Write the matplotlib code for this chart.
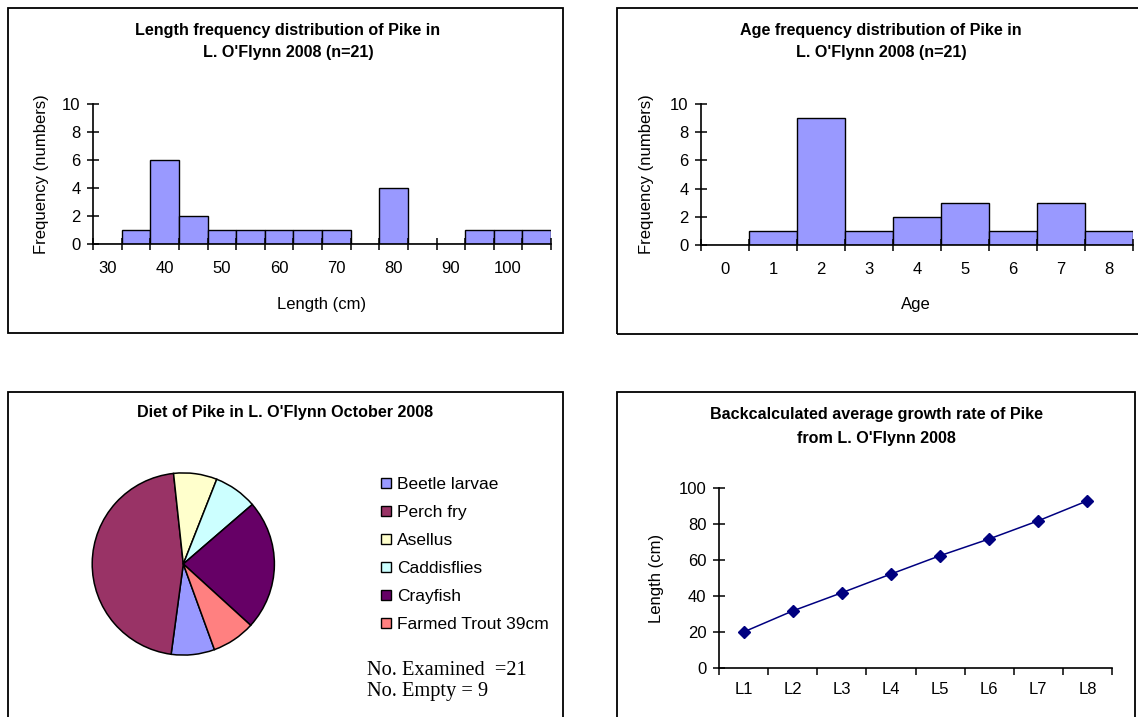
import numpy as np
import matplotlib
matplotlib.use("Agg")
import matplotlib.pyplot as plt
from matplotlib.patches import Rectangle, Patch

plt.rcParams['font.family'] = ['Liberation Sans', 'DejaVu Sans']

# Length frequency (5 cm classes)
length_classes = [30, 35, 40, 45, 50, 55, 60, 65, 70, 75, 80, 85, 90, 95, 100, 105]
length_freq = [0, 1, 6, 2, 1, 1, 1, 1, 1, 0, 4, 0, 0, 1, 1, 1]

# Age frequency
ages = [0, 1, 2, 3, 4, 5, 6, 7, 8]
age_freq = [0, 1, 9, 1, 2, 3, 1, 3, 1]

# Diet (stomach contents)
prey = ["Beetle larvae", "Perch fry", "Asellus", "Caddisflies", "Crayfish", "Farmed Trout 39cm"]
prey_count = [1, 6, 1, 1, 3, 1]
prey_colors = ["#9999FF", "#993366", "#FFFFCC", "#CCFFFF", "#660066", "#FF8080"]

# Back-calculated mean length at age
growth_labels = ["L1", "L2", "L3", "L4", "L5", "L6", "L7", "L8"]
growth_len = [20.0, 31.7, 41.8, 52.2, 62.4, 71.7, 81.8, 92.9]

W, H = 1138, 717
fig = plt.figure(figsize=(W / 100, H / 100), dpi=100)

TSIZE = 11.6   # chart titles
LSIZE = 12     # tick and axis labels


def axes_px(x0, y0, x1, y1):
    return fig.add_axes([x0 / W, 1 - y1 / H, (x1 - x0) / W, (y1 - y0) / H])


def box_px(x0, y0, x1, y1):
    fig.add_artist(Rectangle((x0 / W, 1 - y1 / H), (x1 - x0) / W, (y1 - y0) / H,
                             transform=fig.transFigure, fill=False,
                             edgecolor="black", lw=1.3))


def ftext(x, y, s, **kw):
    fig.text(x / W, 1 - y / H, s, ha="center", va="center", **kw)


def excel_axes(ax):
    for side in ("top", "right"):
        ax.spines[side].set_visible(False)
    for side in ("left", "bottom"):
        ax.spines[side].set_linewidth(1.2)
    ax.tick_params(axis="y", direction="inout", length=8, width=1.1,
                   labelsize=LSIZE, pad=5)
    ax.tick_params(axis="x", which="major", direction="inout", length=8,
                   width=1.1, labelbottom=False)
    ax.tick_params(axis="x", which="minor", length=0, labelsize=LSIZE, pad=12)


# panel frames
box_px(8, 8, 563, 333)
box_px(617, 8, 1150, 334)
box_px(8, 392, 563, 730)
box_px(617, 392, 1135, 730)

# --- Length frequency histogram ---
ax1 = axes_px(93, 104, 551, 244)
x1 = np.arange(len(length_classes))
ax1.bar(x1, length_freq, width=1, color="#9999FF", edgecolor="black", lw=1)
ax1.set_xlim(-0.5, len(length_classes) - 0.5)
ax1.set_ylim(0, 10)
ax1.set_yticks(range(0, 11, 2))
ax1.set_xticks(np.arange(len(length_classes) + 1) - 0.5)
ax1.set_xticks(x1[::2], [str(v) for v in length_classes[::2]], minor=True)
excel_axes(ax1)
ftext(288, 30, "Length frequency distribution of Pike in", fontsize=TSIZE, fontweight="bold")
ftext(288, 52, "L. O'Flynn 2008 (n=21)", fontsize=TSIZE, fontweight="bold")
ftext(322, 304, "Length (cm)", fontsize=LSIZE)
fig.text(42 / W, 1 - 174 / H, "Frequency (numbers)", rotation=90,
         ha="center", va="center", fontsize=LSIZE)

# --- Age frequency histogram ---
ax2 = axes_px(701, 104, 1133, 245)
x2 = np.arange(len(ages))
ax2.bar(x2, age_freq, width=1, color="#9999FF", edgecolor="black", lw=1)
ax2.set_xlim(-0.5, len(ages) - 0.5)
ax2.set_ylim(0, 10)
ax2.set_yticks(range(0, 11, 2))
ax2.set_xticks(np.arange(len(ages) + 1) - 0.5)
ax2.set_xticks(x2, [str(a) for a in ages], minor=True)
excel_axes(ax2)
ftext(881, 30, "Age frequency distribution of Pike in", fontsize=TSIZE, fontweight="bold")
ftext(881, 52, "L. O'Flynn 2008 (n=21)", fontsize=TSIZE, fontweight="bold")
ftext(916, 304, "Age", fontsize=LSIZE)
fig.text(647 / W, 1 - 174 / H, "Frequency (numbers)", rotation=90,
         ha="center", va="center", fontsize=LSIZE)

# --- Diet pie ---
ax3 = axes_px(183.3 - 92, 564 - 92, 183.3 + 92, 564 + 92)
ax3.pie(prey_count, colors=prey_colors, startangle=90 - 160, counterclock=False,
        wedgeprops=dict(edgecolor="black", linewidth=1.1), radius=1)
ax3.set_xlim(-1.01, 1.01)
ax3.set_ylim(-1.01, 1.01)
ax3.set_aspect("equal")
ftext(285, 413, "Diet of Pike in L. O'Flynn October 2008", fontsize=TSIZE, fontweight="bold")
handles = [Patch(facecolor=c, edgecolor="black", lw=1) for c in prey_colors]
fig.legend(handles, prey, loc="upper left", bbox_to_anchor=(381 / W, 1 - 477 / H),
           frameon=False, fontsize=12.5, handlelength=0.55, handleheight=0.55,
           handletextpad=0.35, labelspacing=0.75, borderpad=0, borderaxespad=0)
fig.text(367 / W, 1 - 681 / H, "No. Examined  =21\nNo. Empty = 9",
         family="Liberation Serif", fontsize=14.7, ha="left", va="center",
         linespacing=1.15)

# --- Growth line ---
ax4 = axes_px(719, 488, 1112, 668)
x4 = np.arange(len(growth_labels))
ax4.plot(x4, growth_len, color="#000080", lw=1.1, marker="D", markersize=6)
ax4.set_xlim(-0.5, len(growth_labels) - 0.5)
ax4.set_ylim(0, 100)
ax4.set_yticks(range(0, 101, 20))
ax4.set_xticks(np.arange(len(growth_labels) + 1) - 0.5)
ax4.set_xticks(x4, growth_labels, minor=True)
excel_axes(ax4)
ax4.tick_params(axis="x", which="major", direction="out", length=5)
ax4.tick_params(axis="x", which="minor", pad=10)
ftext(876, 415, "Backcalculated average growth rate of Pike", fontsize=TSIZE, fontweight="bold")
ftext(876, 438, "from L. O'Flynn 2008", fontsize=TSIZE, fontweight="bold")
fig.text(657 / W, 1 - 578 / H, "Length (cm)", rotation=90,
         ha="center", va="center", fontsize=LSIZE)

fig.savefig("out.png", dpi=100, facecolor="white")
